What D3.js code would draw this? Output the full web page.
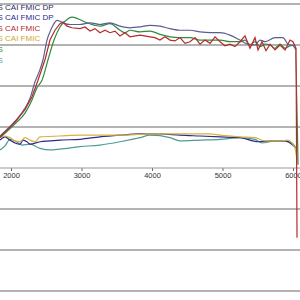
<!DOCTYPE html>
<html><head><meta charset="utf-8">
<script src="https://cdn.jsdelivr.net/npm/d3@7"></script>
<style>html,body{margin:0;padding:0;background:#fff;overflow:hidden}</style>
</head><body>
<svg id="c" width="300" height="300"></svg>
<script>
// ---- data ----
const legendLabels = ["S CAI FMIC DP","S CAI FMIC DP","S CAI FMIC","S CAI FMIC","S","S"];
const xTicks = [2000,3000,4000,5000,6000];
const yGrid = [200,150,100,50,-50,-100,-150];

const hpDpRpm = [1844,2057,2199,2270,2340,2411,2454,2511,2553,2596,2652,2695,2766,2837,2979,3121,3262,3404,3546,3688,3830,3972,4113,4255,4397,4539,4681,4823,4965,5106,5248,5362,5461,5532,5603,5745,5858,5929,6000,6043];
const hpDpVal = [39,57,73,85,105,120,132,156,166,174,180,179,176,175,175,177,175,177,173,171,172,174,173,170,168,168,166,165,165,162,156,151,150,156,154,159,159,151,149,144];

const hpSRpm = [1844,2057,2199,2298,2369,2440,2525,2610,2695,2766,2865,2950,3050,3191,3262,3404,3546,3617,3688,3830,3972,4113,4255,4397,4539,4681,4823,4965,5106,5248,5319,5390,5461,5532,5603,5674,5745,5816,5887,5957,6028,6071];
const hpSVal = [37,54,67,83,98,107,132,156,172,179,184,182,178,174,173,176,168,165,168,166,167,163,160,159,159,156,156,156,154,154,156,150,154,148,151,150,146,151,146,149,150,4];

const hpFRpm = [1844,2057,2199,2298,2383,2482,2553,2624,2695,2738,2794,2865,2979,3050,3121,3191,3262,3333,3404,3475,3546,3617,3688,3830,3972,4043,4113,4184,4255,4326,4397,4468,4539,4610,4681,4752,4823,4894,4965,5035,5106,5177,5248,5319,5390,5461,5504,5560,5617,5674,5745,5816,5887,5957,6000,6043,6057];
const hpFVal = [38,56,71,87,107,132,156,168,176,178,173,171,170,172,167,170,165,168,165,167,161,165,160,162,160,159,156,160,156,155,159,152,154,159,151,156,152,160,154,149,151,148,154,161,146,159,144,154,143,151,144,150,144,156,154,146,-85];

const tqFRpm = [1844,1915,1986,2057,2128,2199,2270,2340,2411,2695,2979,3262,3546,3972,4255,4539,4823,4965,5248,5461,5603,5816,5929,5986,6028,6057];
const tqFVal = [37,39,37,33,32,37,34,32,38,39,40,40,40,41.5,41.5,41.5,41.5,40,38,37,33,33,34,30.5,24,10];

const tqDpRpm = [1844,1915,1986,2057,2128,2170,2227,2270,2411,2553,2695,2979,3262,3546,3830,3972,4113,4397,4681,4965,5248,5504,5674,5887,5957,6028];
const tqDpVal = [34,38,34,30.5,29,34,32,29,32,33,34,35,38,40,41.5,41.5,41.5,40,39,38,37,32,33,33,30.5,25.6];

const tqSRpm = [1844,1915,1986,2057,2156,2270,2411,2553,2695,2979,3262,3546,3830,3972,4255,4397,4681,4965,5248,5461,5560,5745,5887,5986,6057];
const tqSVal = [22,27,35,33,28,29,24,22,23,26,28,32,37,40,37,33,34,35,37,35,30.5,33,33,30.5,22];

// ---- chart ----
const W = 300, H = 300;
const svg = d3.select("#c");
const x = d3.scaleLinear().domain([2000, 6000]).range([11, 293]);
const y = d3.scaleLinear().domain([0, 200]).range([168, 4]);

// grid lines
svg.append("g").selectAll("line").data(yGrid).join("line")
  .attr("x1", 0).attr("x2", W)
  .attr("y1", d => y(d)).attr("y2", d => y(d))
  .attr("stroke", "#b3b3b3").attr("stroke-width", 2);

// x axis
const xAxis = d3.axisBottom(x).tickValues(xTicks).tickSize(3).tickPadding(2).tickFormat(d3.format("d"));
const gx = svg.append("g").attr("transform", `translate(0,${y(0)})`).call(xAxis);
gx.select(".domain").remove();
gx.append("line").attr("x1", 0).attr("x2", W).attr("stroke", "#999").attr("stroke-width", 1);
gx.selectAll(".tick line").attr("stroke", "#666");
gx.selectAll(".tick text").attr("font-family", "Arial, 'Liberation Sans', sans-serif")
  .attr("font-size", 7.5).attr("fill", "#333");

// series
const series = [
  {rpm: tqSRpm, val: tqSVal, color: "#4f9a96", curve: d3.curveMonotoneX},
  {rpm: tqDpRpm, val: tqDpVal, color: "#2a2a90", curve: d3.curveMonotoneX},
  {rpm: tqFRpm, val: tqFVal, color: "#d8b23c", curve: d3.curveMonotoneX},
  {rpm: hpSRpm, val: hpSVal, color: "#2f8a40", curve: d3.curveMonotoneX},
  {rpm: hpDpRpm, val: hpDpVal, color: "#5c5e90", curve: d3.curveMonotoneX},
  {rpm: hpFRpm, val: hpFVal, color: "#b52a2a", curve: d3.curveLinear}
];
series.forEach(s => {
  const pts = s.rpm.map((r, i) => [r, s.val[i]]);
  const line = d3.line().x(d => x(d[0])).y(d => y(d[1])).curve(s.curve);
  svg.append("path").datum(pts).attr("d", line)
    .attr("fill", "none").attr("stroke", s.color).attr("stroke-width", 1.2);
});

// legend
const legendColors = ["#2b2b60","#2a2a90","#b52a2a","#d4a62a","#2f8a40","#5f9f9f"];
svg.append("g").selectAll("text").data(legendLabels).join("text")
  .attr("x", -2.5).attr("y", (d, i) => 9.5 + i * 10.6)
  .attr("font-family", "Arial, 'Liberation Sans', sans-serif").attr("font-size", 8)
  .attr("fill", (d, i) => legendColors[i])
  .text(d => d);
</script>
</body></html>
